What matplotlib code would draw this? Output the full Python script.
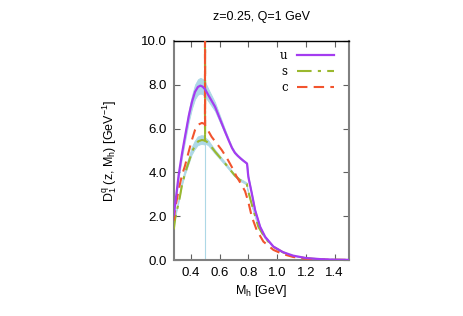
import numpy as np
import matplotlib.pyplot as plt

# values (M_h in GeV, D1 in GeV^-1)
x_u = [0.28, 0.30, 0.314, 0.337, 0.36, 0.385, 0.407, 0.428, 0.448, 0.465, 0.48, 0.4976,
       0.523, 0.545, 0.567, 0.602, 0.637, 0.665, 0.685, 0.705, 0.725, 0.745, 0.765, 0.785, 0.79,
       0.799, 0.823, 0.846, 0.881, 0.916, 0.974, 1.04, 1.11, 1.2, 1.3, 1.4, 1.5]
u = [2.05, 3.1, 3.88, 4.85, 5.7, 6.6, 7.23, 7.68, 7.9, 7.96, 7.92, 7.8,
     7.5, 7.25, 7.0, 6.43, 5.86, 5.42, 5.12, 4.9, 4.76, 4.64, 4.53, 4.43, 4.4,
     3.8, 3.04, 2.28, 1.52, 1.06, 0.61, 0.36, 0.2, 0.09, 0.04, 0.015, 0.005]
u_err = [0.05, 0.1, 0.14, 0.18, 0.22, 0.27, 0.3, 0.33, 0.35, 0.36, 0.35, 0.33,
         0.28, 0.24, 0.2, 0.15, 0.1, 0.07, 0.06, 0.05, 0.04, 0.04, 0.03, 0.03, 0.03,
         0.03, 0.03, 0.02, 0.02, 0.01, 0.01, 0.01, 0.0, 0.0, 0.0, 0.0, 0.0]

x_s = [0.28, 0.29, 0.323, 0.337, 0.358, 0.393, 0.407, 0.428, 0.45, 0.476, 0.4972, 0.4976,
       0.498, 0.509, 0.523, 0.567, 0.637, 0.706, 0.741, 0.764, 0.788, 0.799, 0.834,
       0.869, 0.916, 0.974, 1.04, 1.11, 1.2, 1.3, 1.4, 1.5]
s = [1.4, 1.9, 2.9, 3.42, 3.95, 4.65, 4.95, 5.22, 5.42, 5.48, 5.45, 40.0,
     5.45, 5.4, 5.33, 4.95, 4.41, 3.85, 3.65, 3.57, 3.48, 3.12, 2.28,
     1.52, 0.99, 0.6, 0.35, 0.18, 0.08, 0.03, 0.01, 0.004]
s_err = [0.03, 0.05, 0.08, 0.1, 0.12, 0.15, 0.17, 0.19, 0.2, 0.2, 0.2, 0.0,
         0.15, 0.13, 0.12, 0.09, 0.07, 0.05, 0.05, 0.05, 0.05, 0.04, 0.03,
         0.03, 0.02, 0.02, 0.01, 0.0, 0.0, 0.0, 0.0, 0.0]

x_c = [0.28, 0.29, 0.314, 0.337, 0.358, 0.393, 0.407, 0.428, 0.45, 0.476, 0.4972, 0.4976,
       0.498, 0.523, 0.544, 0.579, 0.614, 0.65, 0.683, 0.718, 0.741, 0.776, 0.799,
       0.823, 0.857, 0.904, 0.974, 1.04, 1.11, 1.2, 1.3, 1.4, 1.5]
c = [1.8, 2.36, 3.2, 3.88, 4.3, 5.17, 5.5, 5.94, 6.18, 6.26, 6.2, 40.0,
     6.15, 5.86, 5.62, 5.32, 5.02, 4.65, 4.26, 3.8, 3.55, 3.15, 2.65,
     1.98, 1.37, 0.84, 0.46, 0.27, 0.14, 0.06, 0.02, 0.008, 0.003]

m_K0 = 0.4976

plt.rcParams['font.family'] = ['Liberation Sans', 'DejaVu Sans']
plt.rcParams['mathtext.fontset'] = 'custom'
plt.rcParams['mathtext.rm'] = 'Liberation Sans'
plt.rcParams['mathtext.it'] = 'Liberation Sans'

fig = plt.figure(figsize=(4.63, 3.16), dpi=100)
ax = fig.add_axes([0.3758, 0.1772, 0.378, 0.6931])

band = '#add8e6'
col_u = '#a43cf0'
col_s = '#9ab82e'
col_c = '#f2542e'

ax.axvline(m_K0, color=band, lw=0.8, zorder=1)

ax.fill_between(x_u, np.array(u) - np.array(u_err), np.array(u) + np.array(u_err),
                color=band, lw=0.6, zorder=2)
ax.fill_between(x_s, np.array(s) - np.array(s_err), np.array(s) + np.array(s_err),
                color=band, lw=0.6, zorder=2)

ax.plot(x_u, u, color=col_u, lw=1.6, label='u', zorder=4)
ax.plot(x_s, s, color=col_s, lw=1.5, ls=(0, (7, 3, 1.5, 3)), label='s', zorder=3)
ax.plot(x_c, c, color=col_c, lw=1.5, ls=(0, (5, 3)), label='c', zorder=3)

ax.set_xlim(0.2815, 1.5)
ax.set_ylim(0, 10)
ax.set_xticks([0.4, 0.6, 0.8, 1.0, 1.2, 1.4])
ax.set_yticks([0, 2, 4, 6, 8, 10])
ax.set_xticklabels(['0.4', '0.6', '0.8', '1.0', '1.2', '1.4'])
ax.set_yticklabels(['0.0', '2.0', '4.0', '6.0', '8.0', '10.0'])
ax.tick_params(direction='in', length=4, width=0.8, color='#606060',
               top=True, right=True, labelsize=9.5, pad=5)

for side in ['left', 'right', 'bottom']:
    ax.spines[side].set_color('#808080')
    ax.spines[side].set_linewidth(1.5)
ax.spines['top'].set_color('black')
ax.spines['top'].set_linewidth(1.0)

ax.set_title('z=0.25, Q=1 GeV', fontsize=9, pad=15)
ax.set_xlabel(r'M$_\mathrm{h}$ [GeV]', fontsize=9, labelpad=3)
ax.set_ylabel(r'D$_1^\mathrm{q}$ (z, M$_\mathrm{h}$) [GeV$^{-1}$]', fontsize=9, labelpad=15)

ax.legend(loc='upper right', bbox_to_anchor=(0.912, 0.962), frameon=False,
          markerfirst=False, handlelength=3.1, handletextpad=0.8,
          labelspacing=0.25, borderpad=0, borderaxespad=0,
          prop={'family': 'serif', 'size': 8.5})

fig.savefig('out.png', dpi=100)
